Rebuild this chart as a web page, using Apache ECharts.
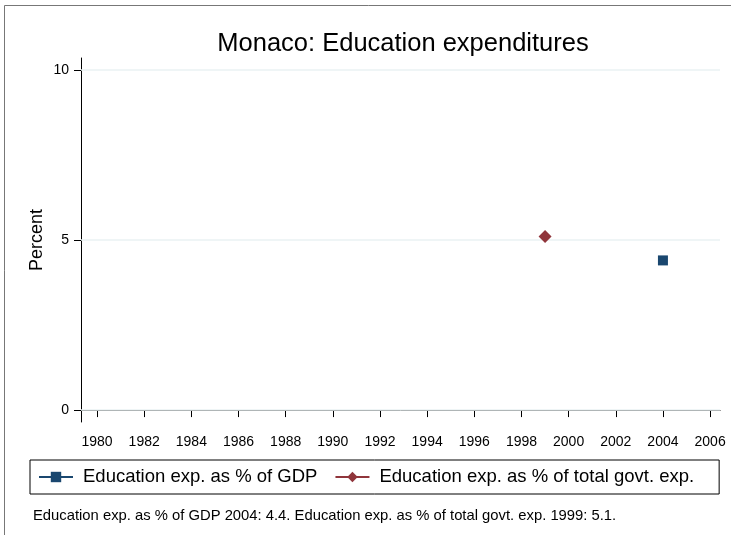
<!DOCTYPE html>
<html>
<head>
<meta charset="utf-8">
<script src="https://cdn.jsdelivr.net/npm/echarts@6/dist/echarts.min.js"></script>
<style>
  html, body { margin: 0; padding: 0; background: #fff; }
  #chart { width: 731px; height: 535px; }
</style>
</head>
<body>
<div id="chart"></div>
<script>
  // values
  const yearTicks = [1980, 1982, 1984, 1986, 1988, 1990, 1992, 1994, 1996, 1998, 2000, 2002, 2004, 2006];
  const percentTicks = [0, 5, 10];
  const gdpYears = [2004];
  const gdpValues = [4.4];
  const govYears = [1999];
  const govValues = [5.1];
  const seriesNames = ['Education exp. as % of GDP', 'Education exp. as % of total govt. exp.'];
  const noteText = 'Education exp. as % of GDP 2004: 4.4. Education exp. as % of total govt. exp. 1999: 5.1.';

  const FONT = '"Liberation Sans", Arial, sans-serif';
  const chart = echarts.init(document.getElementById('chart'));

  const pairs = (xs, ys) => xs.map((x, i) => [x, ys[i]]);

  chart.setOption({
    animation: false,
    textStyle: { fontFamily: FONT, color: '#000' },
    title: {
      text: 'Monaco: Education expenditures',
      left: 398,
      textAlign: 'center',
      top: 26,
      textStyle: { fontFamily: FONT, fontSize: 25.5, fontWeight: 'normal', color: '#000' }
    },
    grid: { left: 81, right: 11, top: 58, bottom: 113 },
    xAxis: {
      type: 'value',
      min: 1979.32,
      max: 2006.42,
      axisLine: { lineStyle: { color: '#000', width: 1 } },
      axisTick: { show: true, length: 7, customValues: yearTicks, lineStyle: { color: '#000' } },
      axisLabel: {
        customValues: yearTicks,
        formatter: v => String(v),
        fontSize: 14, color: '#000', margin: 13, fontFamily: FONT
      },
      splitLine: { show: false }
    },
    yAxis: {
      type: 'value',
      min: -0.35,
      max: 10.35,
      name: 'Percent',
      nameLocation: 'middle',
      nameGap: 35,
      nameMoveOverlap: false,
      nameTextStyle: { fontSize: 18, color: '#000', fontFamily: FONT },
      axisLine: { show: true, lineStyle: { color: '#000', width: 1 } },
      axisTick: { show: true, length: 7, customValues: percentTicks, lineStyle: { color: '#000' } },
      axisLabel: { customValues: percentTicks, fontSize: 14, color: '#000', margin: 12, fontFamily: FONT },
      splitLine: { show: false }
    },
    legend: {
      left: 30,
      top: 460,
      data: seriesNames,
      backgroundColor: '#fff',
      borderColor: '#000',
      borderWidth: 1,
      borderRadius: 0,
      padding: [7, 25, 7, 8],
      itemGap: 17,
      itemWidth: 34,
      itemHeight: 13,
      textStyle: { fontSize: 18.5, lineHeight: 20, color: '#000', fontFamily: FONT, padding: [0, 0, 0, 5] }
    },
    graphic: [
      {
        type: 'rect',
        shape: { x: 4.5, y: 5.5, width: 800, height: 600 },
        style: { fill: null, stroke: '#777', lineWidth: 1 },
        silent: true
      },
      {
        type: 'text',
        left: 33,
        top: 508,
        style: { text: noteText, fontSize: 14.8, fill: '#000', fontFamily: FONT }
      }
    ],
    series: [
      {
        name: seriesNames[0],
        type: 'line',
        data: pairs(gdpYears, gdpValues),
        symbol: 'rect',
        symbolSize: 10,
        itemStyle: { color: '#1a476f' },
        lineStyle: { color: '#1a476f', width: 2 },
        z: 5,
        markLine: {
          silent: true,
          symbol: 'none',
          label: { show: false },
          lineStyle: { color: '#eaf2f3', type: 'solid', width: 1.5 },
          z: 1,
          data: percentTicks.map(v => ({ yAxis: v }))
        }
      },
      {
        name: seriesNames[1],
        type: 'line',
        data: pairs(govYears, govValues),
        symbol: 'diamond',
        symbolSize: 13,
        itemStyle: { color: '#90353b' },
        lineStyle: { color: '#90353b', width: 2 },
        z: 5
      }
    ]
  });
</script>
</body>
</html>
